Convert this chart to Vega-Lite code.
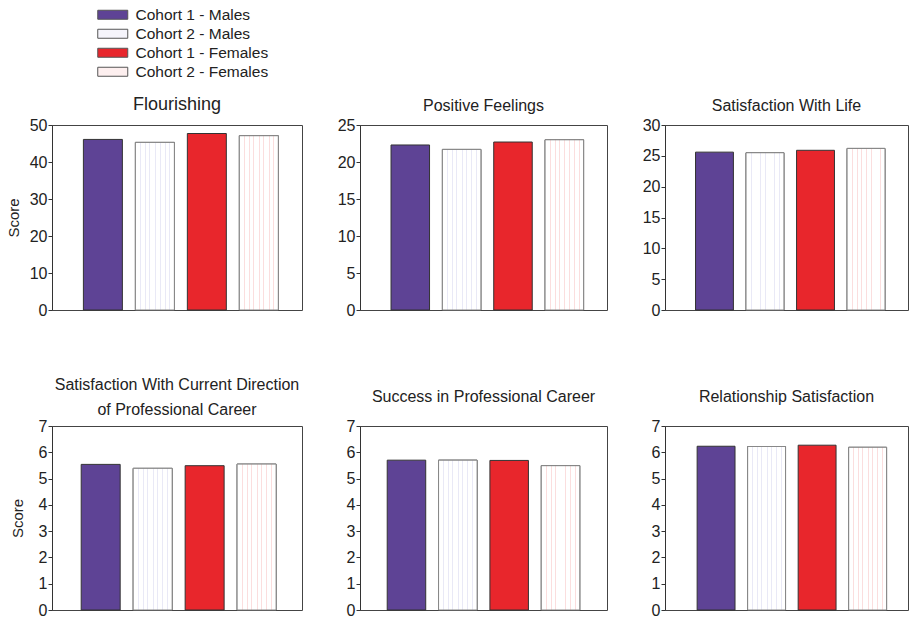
{
  "$schema": "https://vega.github.io/schema/vega-lite/v6.json",
  "background": "white",
  "padding": {"left": 5, "top": 7, "right": 3, "bottom": 5},
  "bounds": "flush",
  "columns": 3,
  "spacing": {"column": 58, "row": 116},
  "data": {"values": [
    {"measure": "Flourishing", "group": "Cohort 1 - Males", "score": 46.1},
    {"measure": "Flourishing", "group": "Cohort 2 - Males", "score": 45.3},
    {"measure": "Flourishing", "group": "Cohort 1 - Females", "score": 47.7},
    {"measure": "Flourishing", "group": "Cohort 2 - Females", "score": 47.1},
    {"measure": "Positive Feelings", "group": "Cohort 1 - Males", "score": 22.3},
    {"measure": "Positive Feelings", "group": "Cohort 2 - Males", "score": 21.7},
    {"measure": "Positive Feelings", "group": "Cohort 1 - Females", "score": 22.7},
    {"measure": "Positive Feelings", "group": "Cohort 2 - Females", "score": 23.0},
    {"measure": "Satisfaction With Life", "group": "Cohort 1 - Males", "score": 25.6},
    {"measure": "Satisfaction With Life", "group": "Cohort 2 - Males", "score": 25.5},
    {"measure": "Satisfaction With Life", "group": "Cohort 1 - Females", "score": 25.9},
    {"measure": "Satisfaction With Life", "group": "Cohort 2 - Females", "score": 26.2},
    {"measure": "Career Direction", "group": "Cohort 1 - Males", "score": 5.54},
    {"measure": "Career Direction", "group": "Cohort 2 - Males", "score": 5.39},
    {"measure": "Career Direction", "group": "Cohort 1 - Females", "score": 5.49},
    {"measure": "Career Direction", "group": "Cohort 2 - Females", "score": 5.55},
    {"measure": "Career Success", "group": "Cohort 1 - Males", "score": 5.70},
    {"measure": "Career Success", "group": "Cohort 2 - Males", "score": 5.70},
    {"measure": "Career Success", "group": "Cohort 1 - Females", "score": 5.69},
    {"measure": "Career Success", "group": "Cohort 2 - Females", "score": 5.49},
    {"measure": "Relationship", "group": "Cohort 1 - Males", "score": 6.23},
    {"measure": "Relationship", "group": "Cohort 2 - Males", "score": 6.22},
    {"measure": "Relationship", "group": "Cohort 1 - Females", "score": 6.27},
    {"measure": "Relationship", "group": "Cohort 2 - Females", "score": 6.19}
  ]},
  "config": {
    "font": "Liberation Sans",
    "view": {"stroke": "#444444", "strokeWidth": 1},
    "axis": {"domainColor": "#333333", "tickColor": "#333333", "labelColor": "#222222", "labelFont": "Liberation Sans", "labelFontSize": 16, "tickSize": 4, "labelPadding": 1, "grid": false, "titleFont": "Liberation Sans", "titleFontWeight": "normal", "titleFontSize": 15, "titleColor": "#222222"},
    "title": {"font": "Liberation Sans", "fontWeight": "normal", "fontSize": 16, "color": "#222222", "frame": "group", "anchor": "middle", "lineHeight": 25},
    "legend": {"labelFont": "Liberation Sans", "labelFontSize": 15.5, "labelColor": "#222222"}
  },
  "concat": [
    {
      "width": 250, "height": 185,
      "title": {"text": "Flourishing", "fontSize": 18, "offset": 3},
      "transform": [{"filter": "datum.measure === 'Flourishing'"}],
      "encoding": {
        "x": {"field": "group", "type": "nominal", "axis": null, "scale": {"domain": ["Cohort 1 - Males", "Cohort 2 - Males", "Cohort 1 - Females", "Cohort 2 - Females"], "paddingInner": 0.25, "paddingOuter": 0.53, "align": 0.57}},
        "y": {"field": "score", "type": "quantitative", "scale": {"domain": [0, 50]}, "axis": {"values": [0, 10, 20, 30, 40, 50], "title": "Score", "titlePadding": 8, "titleFontSize": 15}}
      },
      "layer": [
        {"mark": {"type": "bar", "stroke": "#333333", "strokeWidth": 1},
         "encoding": {"color": {"field": "group", "type": "nominal", "scale": {"domain": ["Cohort 1 - Males", "Cohort 2 - Males", "Cohort 1 - Females", "Cohort 2 - Females"], "range": ["#5e4395", "#f5f4fb", "#e8262c", "#fdefef"]},
           "legend": {"orient": "none", "legendX": 43, "legendY": -118, "title": null, "symbolType": "M-3,-0.9H3V0.9H-3Z", "symbolSize": 100, "symbolStrokeColor": "#555555", "symbolStrokeWidth": 1, "symbolOffset": 10, "labelOffset": 15, "rowPadding": 2, "symbolOpacity": 1}}}},
        {"transform": [{"filter": "datum.group === 'Cohort 2 - Males'"}],
         "mark": {"type": "bar", "stroke": "#888888", "strokeWidth": 1, "fill": {"gradient": "linear", "x1": 0, "y1": 0, "x2": 1, "y2": 0, "stops": [
           {"offset": 0, "color": "#ffffff"}, {"offset": 0.12, "color": "#ffffff"}, {"offset": 0.12, "color": "#e9e9f6"}, {"offset": 0.145, "color": "#e9e9f6"}, {"offset": 0.145, "color": "#ffffff"},
           {"offset": 0.25, "color": "#ffffff"}, {"offset": 0.25, "color": "#e9e9f6"}, {"offset": 0.275, "color": "#e9e9f6"}, {"offset": 0.275, "color": "#ffffff"},
           {"offset": 0.36, "color": "#ffffff"}, {"offset": 0.36, "color": "#e9e9f6"}, {"offset": 0.385, "color": "#e9e9f6"}, {"offset": 0.385, "color": "#ffffff"},
           {"offset": 0.5, "color": "#ffffff"}, {"offset": 0.5, "color": "#e9e9f6"}, {"offset": 0.525, "color": "#e9e9f6"}, {"offset": 0.525, "color": "#ffffff"},
           {"offset": 0.62, "color": "#ffffff"}, {"offset": 0.62, "color": "#e9e9f6"}, {"offset": 0.645, "color": "#e9e9f6"}, {"offset": 0.645, "color": "#ffffff"},
           {"offset": 0.75, "color": "#ffffff"}, {"offset": 0.75, "color": "#e9e9f6"}, {"offset": 0.775, "color": "#e9e9f6"}, {"offset": 0.775, "color": "#ffffff"},
           {"offset": 0.87, "color": "#ffffff"}, {"offset": 0.87, "color": "#e9e9f6"}, {"offset": 0.895, "color": "#e9e9f6"}, {"offset": 0.895, "color": "#ffffff"}, {"offset": 1, "color": "#ffffff"}]}}},
        {"transform": [{"filter": "datum.group === 'Cohort 2 - Females'"}],
         "mark": {"type": "bar", "stroke": "#888888", "strokeWidth": 1, "fill": {"gradient": "linear", "x1": 0, "y1": 0, "x2": 1, "y2": 0, "stops": [
           {"offset": 0, "color": "#ffffff"}, {"offset": 0.12, "color": "#ffffff"}, {"offset": 0.12, "color": "#fbdede"}, {"offset": 0.145, "color": "#fbdede"}, {"offset": 0.145, "color": "#ffffff"},
           {"offset": 0.25, "color": "#ffffff"}, {"offset": 0.25, "color": "#fbdede"}, {"offset": 0.275, "color": "#fbdede"}, {"offset": 0.275, "color": "#ffffff"},
           {"offset": 0.36, "color": "#ffffff"}, {"offset": 0.36, "color": "#fbdede"}, {"offset": 0.385, "color": "#fbdede"}, {"offset": 0.385, "color": "#ffffff"},
           {"offset": 0.5, "color": "#ffffff"}, {"offset": 0.5, "color": "#fbdede"}, {"offset": 0.525, "color": "#fbdede"}, {"offset": 0.525, "color": "#ffffff"},
           {"offset": 0.62, "color": "#ffffff"}, {"offset": 0.62, "color": "#fbdede"}, {"offset": 0.645, "color": "#fbdede"}, {"offset": 0.645, "color": "#ffffff"},
           {"offset": 0.75, "color": "#ffffff"}, {"offset": 0.75, "color": "#fbdede"}, {"offset": 0.775, "color": "#fbdede"}, {"offset": 0.775, "color": "#ffffff"},
           {"offset": 0.87, "color": "#ffffff"}, {"offset": 0.87, "color": "#fbdede"}, {"offset": 0.895, "color": "#fbdede"}, {"offset": 0.895, "color": "#ffffff"}, {"offset": 1, "color": "#ffffff"}]}}}
      ]
    },
    {
      "width": 247, "height": 185,
      "title": {"text": "Positive Feelings", "offset": 3},
      "transform": [{"filter": "datum.measure === 'Positive Feelings'"}],
      "encoding": {
        "x": {"field": "group", "type": "nominal", "axis": null, "scale": {"domain": ["Cohort 1 - Males", "Cohort 2 - Males", "Cohort 1 - Females", "Cohort 2 - Females"], "paddingInner": 0.25, "paddingOuter": 0.53, "align": 0.57}},
        "y": {"field": "score", "type": "quantitative", "scale": {"domain": [0, 25]}, "axis": {"values": [0, 5, 10, 15, 20, 25], "title": null}}
      },
      "layer": [
        {"mark": {"type": "bar", "stroke": "#333333", "strokeWidth": 1},
         "encoding": {"color": {"field": "group", "type": "nominal", "scale": {"domain": ["Cohort 1 - Males", "Cohort 2 - Males", "Cohort 1 - Females", "Cohort 2 - Females"], "range": ["#5e4395", "#f5f4fb", "#e8262c", "#fdefef"]},
           "legend": {"orient": "none", "legendX": 43, "legendY": -118, "title": null, "symbolType": "M-3,-0.9H3V0.9H-3Z", "symbolSize": 100, "symbolStrokeColor": "#555555", "symbolStrokeWidth": 1, "symbolOffset": 10, "labelOffset": 15, "rowPadding": 2, "symbolOpacity": 1}}}},
        {"transform": [{"filter": "datum.group === 'Cohort 2 - Males'"}],
         "mark": {"type": "bar", "stroke": "#888888", "strokeWidth": 1, "fill": {"gradient": "linear", "x1": 0, "y1": 0, "x2": 1, "y2": 0, "stops": [
           {"offset": 0, "color": "#ffffff"}, {"offset": 0.12, "color": "#ffffff"}, {"offset": 0.12, "color": "#e9e9f6"}, {"offset": 0.145, "color": "#e9e9f6"}, {"offset": 0.145, "color": "#ffffff"},
           {"offset": 0.25, "color": "#ffffff"}, {"offset": 0.25, "color": "#e9e9f6"}, {"offset": 0.275, "color": "#e9e9f6"}, {"offset": 0.275, "color": "#ffffff"},
           {"offset": 0.36, "color": "#ffffff"}, {"offset": 0.36, "color": "#e9e9f6"}, {"offset": 0.385, "color": "#e9e9f6"}, {"offset": 0.385, "color": "#ffffff"},
           {"offset": 0.5, "color": "#ffffff"}, {"offset": 0.5, "color": "#e9e9f6"}, {"offset": 0.525, "color": "#e9e9f6"}, {"offset": 0.525, "color": "#ffffff"},
           {"offset": 0.62, "color": "#ffffff"}, {"offset": 0.62, "color": "#e9e9f6"}, {"offset": 0.645, "color": "#e9e9f6"}, {"offset": 0.645, "color": "#ffffff"},
           {"offset": 0.75, "color": "#ffffff"}, {"offset": 0.75, "color": "#e9e9f6"}, {"offset": 0.775, "color": "#e9e9f6"}, {"offset": 0.775, "color": "#ffffff"},
           {"offset": 0.87, "color": "#ffffff"}, {"offset": 0.87, "color": "#e9e9f6"}, {"offset": 0.895, "color": "#e9e9f6"}, {"offset": 0.895, "color": "#ffffff"}, {"offset": 1, "color": "#ffffff"}]}}},
        {"transform": [{"filter": "datum.group === 'Cohort 2 - Females'"}],
         "mark": {"type": "bar", "stroke": "#888888", "strokeWidth": 1, "fill": {"gradient": "linear", "x1": 0, "y1": 0, "x2": 1, "y2": 0, "stops": [
           {"offset": 0, "color": "#ffffff"}, {"offset": 0.12, "color": "#ffffff"}, {"offset": 0.12, "color": "#fbdede"}, {"offset": 0.145, "color": "#fbdede"}, {"offset": 0.145, "color": "#ffffff"},
           {"offset": 0.25, "color": "#ffffff"}, {"offset": 0.25, "color": "#fbdede"}, {"offset": 0.275, "color": "#fbdede"}, {"offset": 0.275, "color": "#ffffff"},
           {"offset": 0.36, "color": "#ffffff"}, {"offset": 0.36, "color": "#fbdede"}, {"offset": 0.385, "color": "#fbdede"}, {"offset": 0.385, "color": "#ffffff"},
           {"offset": 0.5, "color": "#ffffff"}, {"offset": 0.5, "color": "#fbdede"}, {"offset": 0.525, "color": "#fbdede"}, {"offset": 0.525, "color": "#ffffff"},
           {"offset": 0.62, "color": "#ffffff"}, {"offset": 0.62, "color": "#fbdede"}, {"offset": 0.645, "color": "#fbdede"}, {"offset": 0.645, "color": "#ffffff"},
           {"offset": 0.75, "color": "#ffffff"}, {"offset": 0.75, "color": "#fbdede"}, {"offset": 0.775, "color": "#fbdede"}, {"offset": 0.775, "color": "#ffffff"},
           {"offset": 0.87, "color": "#ffffff"}, {"offset": 0.87, "color": "#fbdede"}, {"offset": 0.895, "color": "#fbdede"}, {"offset": 0.895, "color": "#ffffff"}, {"offset": 1, "color": "#ffffff"}]}}}
      ]
    },
    {
      "width": 243, "height": 185,
      "title": {"text": "Satisfaction With Life", "offset": 3},
      "transform": [{"filter": "datum.measure === 'Satisfaction With Life'"}],
      "encoding": {
        "x": {"field": "group", "type": "nominal", "axis": null, "scale": {"domain": ["Cohort 1 - Males", "Cohort 2 - Males", "Cohort 1 - Females", "Cohort 2 - Females"], "paddingInner": 0.25, "paddingOuter": 0.53, "align": 0.57}},
        "y": {"field": "score", "type": "quantitative", "scale": {"domain": [0, 30]}, "axis": {"values": [0, 5, 10, 15, 20, 25, 30], "title": null}}
      },
      "layer": [
        {"mark": {"type": "bar", "stroke": "#333333", "strokeWidth": 1},
         "encoding": {"color": {"field": "group", "type": "nominal", "scale": {"domain": ["Cohort 1 - Males", "Cohort 2 - Males", "Cohort 1 - Females", "Cohort 2 - Females"], "range": ["#5e4395", "#f5f4fb", "#e8262c", "#fdefef"]},
           "legend": {"orient": "none", "legendX": 43, "legendY": -118, "title": null, "symbolType": "M-3,-0.9H3V0.9H-3Z", "symbolSize": 100, "symbolStrokeColor": "#555555", "symbolStrokeWidth": 1, "symbolOffset": 10, "labelOffset": 15, "rowPadding": 2, "symbolOpacity": 1}}}},
        {"transform": [{"filter": "datum.group === 'Cohort 2 - Males'"}],
         "mark": {"type": "bar", "stroke": "#888888", "strokeWidth": 1, "fill": {"gradient": "linear", "x1": 0, "y1": 0, "x2": 1, "y2": 0, "stops": [
           {"offset": 0, "color": "#ffffff"}, {"offset": 0.12, "color": "#ffffff"}, {"offset": 0.12, "color": "#e9e9f6"}, {"offset": 0.145, "color": "#e9e9f6"}, {"offset": 0.145, "color": "#ffffff"},
           {"offset": 0.25, "color": "#ffffff"}, {"offset": 0.25, "color": "#e9e9f6"}, {"offset": 0.275, "color": "#e9e9f6"}, {"offset": 0.275, "color": "#ffffff"},
           {"offset": 0.36, "color": "#ffffff"}, {"offset": 0.36, "color": "#e9e9f6"}, {"offset": 0.385, "color": "#e9e9f6"}, {"offset": 0.385, "color": "#ffffff"},
           {"offset": 0.5, "color": "#ffffff"}, {"offset": 0.5, "color": "#e9e9f6"}, {"offset": 0.525, "color": "#e9e9f6"}, {"offset": 0.525, "color": "#ffffff"},
           {"offset": 0.62, "color": "#ffffff"}, {"offset": 0.62, "color": "#e9e9f6"}, {"offset": 0.645, "color": "#e9e9f6"}, {"offset": 0.645, "color": "#ffffff"},
           {"offset": 0.75, "color": "#ffffff"}, {"offset": 0.75, "color": "#e9e9f6"}, {"offset": 0.775, "color": "#e9e9f6"}, {"offset": 0.775, "color": "#ffffff"},
           {"offset": 0.87, "color": "#ffffff"}, {"offset": 0.87, "color": "#e9e9f6"}, {"offset": 0.895, "color": "#e9e9f6"}, {"offset": 0.895, "color": "#ffffff"}, {"offset": 1, "color": "#ffffff"}]}}},
        {"transform": [{"filter": "datum.group === 'Cohort 2 - Females'"}],
         "mark": {"type": "bar", "stroke": "#888888", "strokeWidth": 1, "fill": {"gradient": "linear", "x1": 0, "y1": 0, "x2": 1, "y2": 0, "stops": [
           {"offset": 0, "color": "#ffffff"}, {"offset": 0.12, "color": "#ffffff"}, {"offset": 0.12, "color": "#fbdede"}, {"offset": 0.145, "color": "#fbdede"}, {"offset": 0.145, "color": "#ffffff"},
           {"offset": 0.25, "color": "#ffffff"}, {"offset": 0.25, "color": "#fbdede"}, {"offset": 0.275, "color": "#fbdede"}, {"offset": 0.275, "color": "#ffffff"},
           {"offset": 0.36, "color": "#ffffff"}, {"offset": 0.36, "color": "#fbdede"}, {"offset": 0.385, "color": "#fbdede"}, {"offset": 0.385, "color": "#ffffff"},
           {"offset": 0.5, "color": "#ffffff"}, {"offset": 0.5, "color": "#fbdede"}, {"offset": 0.525, "color": "#fbdede"}, {"offset": 0.525, "color": "#ffffff"},
           {"offset": 0.62, "color": "#ffffff"}, {"offset": 0.62, "color": "#fbdede"}, {"offset": 0.645, "color": "#fbdede"}, {"offset": 0.645, "color": "#ffffff"},
           {"offset": 0.75, "color": "#ffffff"}, {"offset": 0.75, "color": "#fbdede"}, {"offset": 0.775, "color": "#fbdede"}, {"offset": 0.775, "color": "#ffffff"},
           {"offset": 0.87, "color": "#ffffff"}, {"offset": 0.87, "color": "#fbdede"}, {"offset": 0.895, "color": "#fbdede"}, {"offset": 0.895, "color": "#ffffff"}, {"offset": 1, "color": "#ffffff"}]}}}
      ]
    },
    {
      "width": 250, "height": 184,
      "title": {"text": ["Satisfaction With Current Direction", "of Professional  Career"], "offset": 0},
      "transform": [{"filter": "datum.measure === 'Career Direction'"}],
      "encoding": {
        "x": {"field": "group", "type": "nominal", "axis": null, "scale": {"domain": ["Cohort 1 - Males", "Cohort 2 - Males", "Cohort 1 - Females", "Cohort 2 - Females"], "paddingInner": 0.25, "paddingOuter": 0.53, "align": 0.53}},
        "y": {"field": "score", "type": "quantitative", "scale": {"domain": [0, 7]}, "axis": {"values": [0, 1, 2, 3, 4, 5, 6, 7], "title": "Score", "titlePadding": 13, "titleFontSize": 15}}
      },
      "layer": [
        {"mark": {"type": "bar", "stroke": "#333333", "strokeWidth": 1},
         "encoding": {"color": {"field": "group", "type": "nominal", "scale": {"domain": ["Cohort 1 - Males", "Cohort 2 - Males", "Cohort 1 - Females", "Cohort 2 - Females"], "range": ["#5e4395", "#f5f4fb", "#e8262c", "#fdefef"]},
           "legend": {"orient": "none", "legendX": 43, "legendY": -118, "title": null, "symbolType": "M-3,-0.9H3V0.9H-3Z", "symbolSize": 100, "symbolStrokeColor": "#555555", "symbolStrokeWidth": 1, "symbolOffset": 10, "labelOffset": 15, "rowPadding": 2, "symbolOpacity": 1}}}},
        {"transform": [{"filter": "datum.group === 'Cohort 2 - Males'"}],
         "mark": {"type": "bar", "stroke": "#888888", "strokeWidth": 1, "fill": {"gradient": "linear", "x1": 0, "y1": 0, "x2": 1, "y2": 0, "stops": [
           {"offset": 0, "color": "#ffffff"}, {"offset": 0.12, "color": "#ffffff"}, {"offset": 0.12, "color": "#e9e9f6"}, {"offset": 0.145, "color": "#e9e9f6"}, {"offset": 0.145, "color": "#ffffff"},
           {"offset": 0.25, "color": "#ffffff"}, {"offset": 0.25, "color": "#e9e9f6"}, {"offset": 0.275, "color": "#e9e9f6"}, {"offset": 0.275, "color": "#ffffff"},
           {"offset": 0.36, "color": "#ffffff"}, {"offset": 0.36, "color": "#e9e9f6"}, {"offset": 0.385, "color": "#e9e9f6"}, {"offset": 0.385, "color": "#ffffff"},
           {"offset": 0.5, "color": "#ffffff"}, {"offset": 0.5, "color": "#e9e9f6"}, {"offset": 0.525, "color": "#e9e9f6"}, {"offset": 0.525, "color": "#ffffff"},
           {"offset": 0.62, "color": "#ffffff"}, {"offset": 0.62, "color": "#e9e9f6"}, {"offset": 0.645, "color": "#e9e9f6"}, {"offset": 0.645, "color": "#ffffff"},
           {"offset": 0.75, "color": "#ffffff"}, {"offset": 0.75, "color": "#e9e9f6"}, {"offset": 0.775, "color": "#e9e9f6"}, {"offset": 0.775, "color": "#ffffff"},
           {"offset": 0.87, "color": "#ffffff"}, {"offset": 0.87, "color": "#e9e9f6"}, {"offset": 0.895, "color": "#e9e9f6"}, {"offset": 0.895, "color": "#ffffff"}, {"offset": 1, "color": "#ffffff"}]}}},
        {"transform": [{"filter": "datum.group === 'Cohort 2 - Females'"}],
         "mark": {"type": "bar", "stroke": "#888888", "strokeWidth": 1, "fill": {"gradient": "linear", "x1": 0, "y1": 0, "x2": 1, "y2": 0, "stops": [
           {"offset": 0, "color": "#ffffff"}, {"offset": 0.12, "color": "#ffffff"}, {"offset": 0.12, "color": "#fbdede"}, {"offset": 0.145, "color": "#fbdede"}, {"offset": 0.145, "color": "#ffffff"},
           {"offset": 0.25, "color": "#ffffff"}, {"offset": 0.25, "color": "#fbdede"}, {"offset": 0.275, "color": "#fbdede"}, {"offset": 0.275, "color": "#ffffff"},
           {"offset": 0.36, "color": "#ffffff"}, {"offset": 0.36, "color": "#fbdede"}, {"offset": 0.385, "color": "#fbdede"}, {"offset": 0.385, "color": "#ffffff"},
           {"offset": 0.5, "color": "#ffffff"}, {"offset": 0.5, "color": "#fbdede"}, {"offset": 0.525, "color": "#fbdede"}, {"offset": 0.525, "color": "#ffffff"},
           {"offset": 0.62, "color": "#ffffff"}, {"offset": 0.62, "color": "#fbdede"}, {"offset": 0.645, "color": "#fbdede"}, {"offset": 0.645, "color": "#ffffff"},
           {"offset": 0.75, "color": "#ffffff"}, {"offset": 0.75, "color": "#fbdede"}, {"offset": 0.775, "color": "#fbdede"}, {"offset": 0.775, "color": "#ffffff"},
           {"offset": 0.87, "color": "#ffffff"}, {"offset": 0.87, "color": "#fbdede"}, {"offset": 0.895, "color": "#fbdede"}, {"offset": 0.895, "color": "#ffffff"}, {"offset": 1, "color": "#ffffff"}]}}}
      ]
    },
    {
      "width": 247, "height": 184,
      "title": {"text": "Success in Professional Career", "offset": 13},
      "transform": [{"filter": "datum.measure === 'Career Success'"}],
      "encoding": {
        "x": {"field": "group", "type": "nominal", "axis": null, "scale": {"domain": ["Cohort 1 - Males", "Cohort 2 - Males", "Cohort 1 - Females", "Cohort 2 - Females"], "paddingInner": 0.25, "paddingOuter": 0.53, "align": 0.5}},
        "y": {"field": "score", "type": "quantitative", "scale": {"domain": [0, 7]}, "axis": {"values": [0, 1, 2, 3, 4, 5, 6, 7], "title": null}}
      },
      "layer": [
        {"mark": {"type": "bar", "stroke": "#333333", "strokeWidth": 1},
         "encoding": {"color": {"field": "group", "type": "nominal", "scale": {"domain": ["Cohort 1 - Males", "Cohort 2 - Males", "Cohort 1 - Females", "Cohort 2 - Females"], "range": ["#5e4395", "#f5f4fb", "#e8262c", "#fdefef"]},
           "legend": {"orient": "none", "legendX": 43, "legendY": -118, "title": null, "symbolType": "M-3,-0.9H3V0.9H-3Z", "symbolSize": 100, "symbolStrokeColor": "#555555", "symbolStrokeWidth": 1, "symbolOffset": 10, "labelOffset": 15, "rowPadding": 2, "symbolOpacity": 1}}}},
        {"transform": [{"filter": "datum.group === 'Cohort 2 - Males'"}],
         "mark": {"type": "bar", "stroke": "#888888", "strokeWidth": 1, "fill": {"gradient": "linear", "x1": 0, "y1": 0, "x2": 1, "y2": 0, "stops": [
           {"offset": 0, "color": "#ffffff"}, {"offset": 0.12, "color": "#ffffff"}, {"offset": 0.12, "color": "#e9e9f6"}, {"offset": 0.145, "color": "#e9e9f6"}, {"offset": 0.145, "color": "#ffffff"},
           {"offset": 0.25, "color": "#ffffff"}, {"offset": 0.25, "color": "#e9e9f6"}, {"offset": 0.275, "color": "#e9e9f6"}, {"offset": 0.275, "color": "#ffffff"},
           {"offset": 0.36, "color": "#ffffff"}, {"offset": 0.36, "color": "#e9e9f6"}, {"offset": 0.385, "color": "#e9e9f6"}, {"offset": 0.385, "color": "#ffffff"},
           {"offset": 0.5, "color": "#ffffff"}, {"offset": 0.5, "color": "#e9e9f6"}, {"offset": 0.525, "color": "#e9e9f6"}, {"offset": 0.525, "color": "#ffffff"},
           {"offset": 0.62, "color": "#ffffff"}, {"offset": 0.62, "color": "#e9e9f6"}, {"offset": 0.645, "color": "#e9e9f6"}, {"offset": 0.645, "color": "#ffffff"},
           {"offset": 0.75, "color": "#ffffff"}, {"offset": 0.75, "color": "#e9e9f6"}, {"offset": 0.775, "color": "#e9e9f6"}, {"offset": 0.775, "color": "#ffffff"},
           {"offset": 0.87, "color": "#ffffff"}, {"offset": 0.87, "color": "#e9e9f6"}, {"offset": 0.895, "color": "#e9e9f6"}, {"offset": 0.895, "color": "#ffffff"}, {"offset": 1, "color": "#ffffff"}]}}},
        {"transform": [{"filter": "datum.group === 'Cohort 2 - Females'"}],
         "mark": {"type": "bar", "stroke": "#888888", "strokeWidth": 1, "fill": {"gradient": "linear", "x1": 0, "y1": 0, "x2": 1, "y2": 0, "stops": [
           {"offset": 0, "color": "#ffffff"}, {"offset": 0.12, "color": "#ffffff"}, {"offset": 0.12, "color": "#fbdede"}, {"offset": 0.145, "color": "#fbdede"}, {"offset": 0.145, "color": "#ffffff"},
           {"offset": 0.25, "color": "#ffffff"}, {"offset": 0.25, "color": "#fbdede"}, {"offset": 0.275, "color": "#fbdede"}, {"offset": 0.275, "color": "#ffffff"},
           {"offset": 0.36, "color": "#ffffff"}, {"offset": 0.36, "color": "#fbdede"}, {"offset": 0.385, "color": "#fbdede"}, {"offset": 0.385, "color": "#ffffff"},
           {"offset": 0.5, "color": "#ffffff"}, {"offset": 0.5, "color": "#fbdede"}, {"offset": 0.525, "color": "#fbdede"}, {"offset": 0.525, "color": "#ffffff"},
           {"offset": 0.62, "color": "#ffffff"}, {"offset": 0.62, "color": "#fbdede"}, {"offset": 0.645, "color": "#fbdede"}, {"offset": 0.645, "color": "#ffffff"},
           {"offset": 0.75, "color": "#ffffff"}, {"offset": 0.75, "color": "#fbdede"}, {"offset": 0.775, "color": "#fbdede"}, {"offset": 0.775, "color": "#ffffff"},
           {"offset": 0.87, "color": "#ffffff"}, {"offset": 0.87, "color": "#fbdede"}, {"offset": 0.895, "color": "#fbdede"}, {"offset": 0.895, "color": "#ffffff"}, {"offset": 1, "color": "#ffffff"}]}}}
      ]
    },
    {
      "width": 243, "height": 184,
      "title": {"text": "Relationship  Satisfaction", "offset": 13},
      "transform": [{"filter": "datum.measure === 'Relationship'"}],
      "encoding": {
        "x": {"field": "group", "type": "nominal", "axis": null, "scale": {"domain": ["Cohort 1 - Males", "Cohort 2 - Males", "Cohort 1 - Females", "Cohort 2 - Females"], "paddingInner": 0.25, "paddingOuter": 0.53, "align": 0.6}},
        "y": {"field": "score", "type": "quantitative", "scale": {"domain": [0, 7]}, "axis": {"values": [0, 1, 2, 3, 4, 5, 6, 7], "title": null}}
      },
      "layer": [
        {"mark": {"type": "bar", "stroke": "#333333", "strokeWidth": 1},
         "encoding": {"color": {"field": "group", "type": "nominal", "scale": {"domain": ["Cohort 1 - Males", "Cohort 2 - Males", "Cohort 1 - Females", "Cohort 2 - Females"], "range": ["#5e4395", "#f5f4fb", "#e8262c", "#fdefef"]},
           "legend": {"orient": "none", "legendX": 43, "legendY": -118, "title": null, "symbolType": "M-3,-0.9H3V0.9H-3Z", "symbolSize": 100, "symbolStrokeColor": "#555555", "symbolStrokeWidth": 1, "symbolOffset": 10, "labelOffset": 15, "rowPadding": 2, "symbolOpacity": 1}}}},
        {"transform": [{"filter": "datum.group === 'Cohort 2 - Males'"}],
         "mark": {"type": "bar", "stroke": "#888888", "strokeWidth": 1, "fill": {"gradient": "linear", "x1": 0, "y1": 0, "x2": 1, "y2": 0, "stops": [
           {"offset": 0, "color": "#ffffff"}, {"offset": 0.12, "color": "#ffffff"}, {"offset": 0.12, "color": "#e9e9f6"}, {"offset": 0.145, "color": "#e9e9f6"}, {"offset": 0.145, "color": "#ffffff"},
           {"offset": 0.25, "color": "#ffffff"}, {"offset": 0.25, "color": "#e9e9f6"}, {"offset": 0.275, "color": "#e9e9f6"}, {"offset": 0.275, "color": "#ffffff"},
           {"offset": 0.36, "color": "#ffffff"}, {"offset": 0.36, "color": "#e9e9f6"}, {"offset": 0.385, "color": "#e9e9f6"}, {"offset": 0.385, "color": "#ffffff"},
           {"offset": 0.5, "color": "#ffffff"}, {"offset": 0.5, "color": "#e9e9f6"}, {"offset": 0.525, "color": "#e9e9f6"}, {"offset": 0.525, "color": "#ffffff"},
           {"offset": 0.62, "color": "#ffffff"}, {"offset": 0.62, "color": "#e9e9f6"}, {"offset": 0.645, "color": "#e9e9f6"}, {"offset": 0.645, "color": "#ffffff"},
           {"offset": 0.75, "color": "#ffffff"}, {"offset": 0.75, "color": "#e9e9f6"}, {"offset": 0.775, "color": "#e9e9f6"}, {"offset": 0.775, "color": "#ffffff"},
           {"offset": 0.87, "color": "#ffffff"}, {"offset": 0.87, "color": "#e9e9f6"}, {"offset": 0.895, "color": "#e9e9f6"}, {"offset": 0.895, "color": "#ffffff"}, {"offset": 1, "color": "#ffffff"}]}}},
        {"transform": [{"filter": "datum.group === 'Cohort 2 - Females'"}],
         "mark": {"type": "bar", "stroke": "#888888", "strokeWidth": 1, "fill": {"gradient": "linear", "x1": 0, "y1": 0, "x2": 1, "y2": 0, "stops": [
           {"offset": 0, "color": "#ffffff"}, {"offset": 0.12, "color": "#ffffff"}, {"offset": 0.12, "color": "#fbdede"}, {"offset": 0.145, "color": "#fbdede"}, {"offset": 0.145, "color": "#ffffff"},
           {"offset": 0.25, "color": "#ffffff"}, {"offset": 0.25, "color": "#fbdede"}, {"offset": 0.275, "color": "#fbdede"}, {"offset": 0.275, "color": "#ffffff"},
           {"offset": 0.36, "color": "#ffffff"}, {"offset": 0.36, "color": "#fbdede"}, {"offset": 0.385, "color": "#fbdede"}, {"offset": 0.385, "color": "#ffffff"},
           {"offset": 0.5, "color": "#ffffff"}, {"offset": 0.5, "color": "#fbdede"}, {"offset": 0.525, "color": "#fbdede"}, {"offset": 0.525, "color": "#ffffff"},
           {"offset": 0.62, "color": "#ffffff"}, {"offset": 0.62, "color": "#fbdede"}, {"offset": 0.645, "color": "#fbdede"}, {"offset": 0.645, "color": "#ffffff"},
           {"offset": 0.75, "color": "#ffffff"}, {"offset": 0.75, "color": "#fbdede"}, {"offset": 0.775, "color": "#fbdede"}, {"offset": 0.775, "color": "#ffffff"},
           {"offset": 0.87, "color": "#ffffff"}, {"offset": 0.87, "color": "#fbdede"}, {"offset": 0.895, "color": "#fbdede"}, {"offset": 0.895, "color": "#ffffff"}, {"offset": 1, "color": "#ffffff"}]}}}
      ]
    }
  ]
}
